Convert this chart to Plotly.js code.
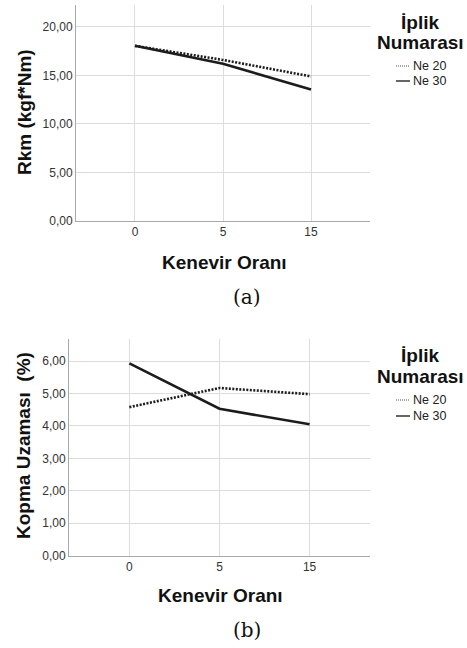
<!DOCTYPE html>
<html>
<head>
<meta charset="utf-8">
<script src="https://cdn.plot.ly/plotly-3.0.1.min.js"></script>
<style>html,body{margin:0;padding:0;background:#fff;}#chart{width:467px;height:648px;}</style>
</head>
<body>
<div id="chart"></div>
<script>
// ---- data ----
const categories = ['0', '5', '15'];
const seriesNames = ['Ne 20', 'Ne 30'];
const rkmNe20 = [18.05, 16.6, 14.9];
const rkmNe30 = [18.05, 16.2, 13.55];
const uzamaNe20 = [4.58, 5.17, 4.98];
const uzamaNe30 = [5.93, 4.53, 4.05];
const yTicksA = [0, 5, 10, 15, 20];
const yTicksB = [0, 1, 2, 3, 4, 5, 6];
const titleA = 'Rkm (kgf*Nm)';
const titleB = 'Kopma Uzaması  (%)';
const xTitle = 'Kenevir Oranı';
const legendTitle = ['İplik', 'Numarası'];
const captions = ['(a)', '(b)'];

// ---- layout helpers ----
const W = 467, H = 648;
const px = x => x / W;
const py = y => 1 - y / H;
const lineColor = '#1c1c1c';
const dashes = ['2px,1.5px', 'solid'];

const traces = [];
[[rkmNe20, rkmNe30, 'x', 'y'], [uzamaNe20, uzamaNe30, 'x2', 'y2']].forEach(([a, b, xa, ya]) => {
  [a, b].forEach((vals, i) => {
    traces.push({
      type: 'scatter', mode: 'lines', x: categories, y: vals,
      xaxis: xa, yaxis: ya, name: seriesNames[i], showlegend: false,
      line: {color: lineColor, width: 2.6, dash: dashes[i]}, hoverinfo: 'skip'
    });
  });
});

const tickFont = {family: 'Liberation Sans, Arial, sans-serif', size: 12, color: '#333'};
const xaxisBase = {
  type: 'category', range: [-0.67, 2.67], showgrid: true, gridcolor: '#dcdcdc', gridwidth: 1,
  showline: true, linecolor: '#a8a8a8', linewidth: 1, ticks: '', tickfont: tickFont,
  zeroline: false, fixedrange: true
};
const yaxisBase = {
  showgrid: true, gridcolor: '#dcdcdc', gridwidth: 1, showline: true, linecolor: '#a8a8a8',
  linewidth: 1, ticks: '', tickfont: tickFont, tickformat: '.2f', zeroline: false, fixedrange: true
};

const boldFont = s => ({family: 'Liberation Sans, Arial, sans-serif', size: s, color: '#111', weight: 'bold'});
const annotations = [];
const shapes = [];
function ann(text, x, y, opts) {
  annotations.push(Object.assign({text: text, xref: 'paper', yref: 'paper', x: px(x), y: py(y),
    xanchor: 'center', yanchor: 'middle', showarrow: false}, opts));
}
// panel a
ann('<b>' + titleA + '</b>', 24, 112, {textangle: -90, font: boldFont(19)});
ann('<b>' + xTitle + '</b>', 224, 262, {font: boldFont(19)});
ann(captions[0], 247, 297, {font: {family: 'DejaVu Serif, serif', size: 20, color: '#111'}});
// panel b
ann('<b>' + titleB + '</b>', 24, 446, {textangle: -90, font: boldFont(19)});
ann('<b>' + xTitle + '</b>', 220, 595, {font: boldFont(19)});
ann(captions[1], 247, 630, {font: {family: 'DejaVu Serif, serif', size: 20, color: '#111'}});

// legends
[[22, 43, 66, 81], [355, 376, 400, 416]].forEach(([t1, t2, l1, l2]) => {
  ann('<b>' + legendTitle[0] + '</b>', 420, t1, {font: boldFont(19)});
  ann('<b>' + legendTitle[1] + '</b>', 420, t2, {font: boldFont(19)});
  [l1, l2].forEach((yy, i) => {
    ann(seriesNames[i], 411, yy, {xanchor: 'left', font: {family: 'Liberation Sans, Arial, sans-serif', size: 12.5, color: '#222'}});
    shapes.push({type: 'line', xref: 'paper', yref: 'paper', x0: px(396), x1: px(410), y0: py(yy), y1: py(yy),
      line: {color: i === 0 ? '#555' : '#333', width: i === 0 ? 1 : 1.5, dash: i === 0 ? '1px,1px' : 'solid'}});
  });
});

const layout = {
  width: W, height: H, margin: {l: 0, r: 0, t: 0, b: 0},
  paper_bgcolor: '#fff', plot_bgcolor: '#fff', separators: ',.', showlegend: false,
  xaxis: Object.assign({}, xaxisBase, {domain: [px(76), px(370)], anchor: 'y'}),
  yaxis: Object.assign({}, yaxisBase, {domain: [py(221), py(5)], range: [0, 22.26], tickvals: yTicksA, anchor: 'x'}),
  xaxis2: Object.assign({}, xaxisBase, {domain: [px(69), px(370)], anchor: 'y2'}),
  yaxis2: Object.assign({}, yaxisBase, {domain: [py(555.7), py(339)], range: [0, 6.68], tickvals: yTicksB, anchor: 'x2'}),
  annotations: annotations, shapes: shapes
};

Plotly.newPlot('chart', traces, layout, {displayModeBar: false, staticPlot: true});
</script>
</body>
</html>
